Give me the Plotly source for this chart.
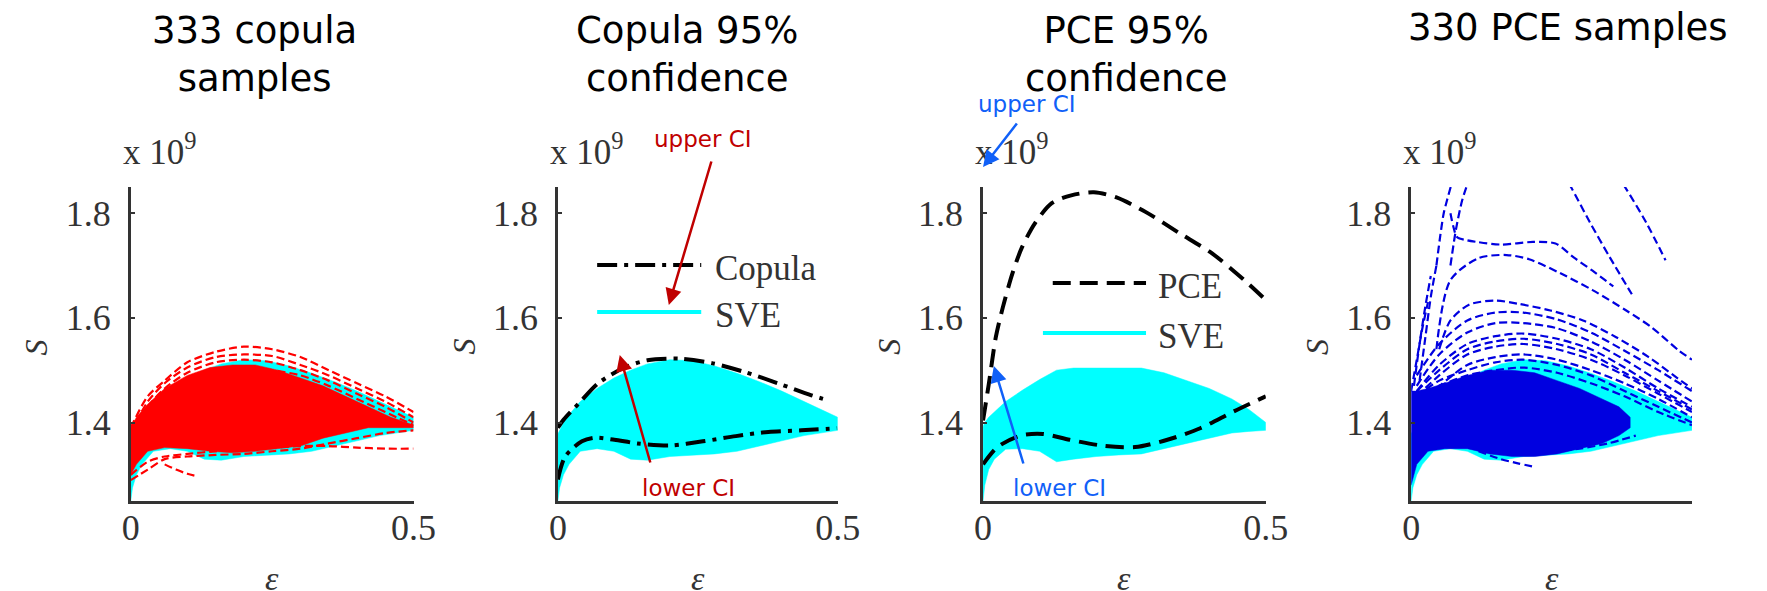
import plotly.graph_objects as go

W, H = 1767, 591

# ---------------- data ----------------
TITLES = ["333 copula<br>samples", "Copula 95%<br>confidence", "PCE 95%<br>confidence", "330 PCE samples"]
Y_TICKS = [1.4, 1.6, 1.8]
Y_TICKTEXT = ["1.4", "1.6", "1.8"]
X_TICKS = [0, 0.5]
X_TICKTEXT = ["0", "0.5"]

# SVE envelope (panels 1, 2, 4)
SVE_EPS = [0.0, 0.003, 0.01, 0.02, 0.04, 0.07, 0.10, 0.13, 0.16, 0.20, 0.24, 0.28, 0.32, 0.36, 0.40, 0.44, 0.47, 0.50]
SVE_UP = [1.378, 1.385, 1.40, 1.415, 1.44, 1.465, 1.485, 1.50, 1.512, 1.52, 1.518, 1.508, 1.494, 1.478, 1.46, 1.44, 1.425, 1.41]
SVE_LO = [1.25, 1.275, 1.30, 1.32, 1.345, 1.35, 1.345, 1.33, 1.328, 1.335, 1.338, 1.34, 1.345, 1.355, 1.365, 1.375, 1.38, 1.385]
# SVE envelope as drawn in panel 3
SVE3_UP = [1.392, 1.40, 1.41, 1.42, 1.44, 1.462, 1.482, 1.50, 1.504, 1.504, 1.504, 1.504, 1.495, 1.48, 1.465, 1.445, 1.425, 1.40]
SVE3_LO = [1.25, 1.28, 1.31, 1.33, 1.349, 1.35, 1.345, 1.325, 1.33, 1.335, 1.338, 1.34, 1.35, 1.36, 1.37, 1.38, 1.383, 1.385]

# copula samples: dense mass + individual sample curves
RED_EPS = [0.0, 0.01, 0.03, 0.06, 0.10, 0.14, 0.18, 0.22, 0.26, 0.30, 0.34, 0.38, 0.42, 0.46, 0.50]
RED_UP = [1.39, 1.41, 1.435, 1.465, 1.49, 1.505, 1.51, 1.51, 1.50, 1.485, 1.47, 1.45, 1.43, 1.41, 1.395]
RED_LO = [1.30, 1.32, 1.345, 1.352, 1.35, 1.345, 1.342, 1.345, 1.35, 1.355, 1.37, 1.38, 1.39, 1.39, 1.39]
RS_EPS = [0.0, 0.03, 0.06, 0.10, 0.15, 0.20, 0.25, 0.30, 0.35, 0.40, 0.45, 0.50]
RS1 = [1.39, 1.45, 1.48, 1.515, 1.535, 1.545, 1.54, 1.525, 1.50, 1.475, 1.45, 1.42]
RS2 = [1.38, 1.44, 1.475, 1.505, 1.525, 1.53, 1.527, 1.51, 1.49, 1.465, 1.44, 1.41]
RS3 = [1.37, 1.43, 1.465, 1.495, 1.515, 1.52, 1.515, 1.50, 1.48, 1.455, 1.43, 1.40]
RS4 = [1.30, 1.325, 1.335, 1.34, 1.345, 1.35, 1.352, 1.355, 1.355, 1.352, 1.35, 1.35]
RS5 = [1.29, 1.31, 1.33, 1.335, 1.338, 1.34, 1.345, 1.35, 1.36, 1.37, 1.38, 1.385]
RS7 = [1.36, 1.42, 1.455, 1.485, 1.50, 1.505, 1.50, 1.49, 1.47, 1.445, 1.42, 1.395]
RS6_EPS = [0.06, 0.08, 0.10, 0.115]
RS6 = [1.32, 1.31, 1.302, 1.298]

# copula 95% CI
CUP_EPS = [0.0, 0.01, 0.037, 0.072, 0.119, 0.16, 0.218, 0.277, 0.335, 0.393, 0.453, 0.484]
CUP_S = [1.39, 1.405, 1.436, 1.475, 1.505, 1.519, 1.522, 1.513, 1.496, 1.475, 1.452, 1.442]
CLO_EPS = [0.0, 0.013, 0.043, 0.066, 0.101, 0.142, 0.20, 0.259, 0.318, 0.376, 0.435, 0.499]
CLO_S = [1.291, 1.335, 1.364, 1.371, 1.367, 1.36, 1.356, 1.364, 1.374, 1.382, 1.385, 1.389]

# PCE 95% CI
PUP_EPS = [0.0, 0.0104, 0.0226, 0.035, 0.052, 0.069, 0.092, 0.1215, 0.156, 0.196, 0.236, 0.288, 0.347, 0.405, 0.462, 0.50]
PUP_S = [1.404, 1.475, 1.563, 1.62, 1.685, 1.735, 1.781, 1.819, 1.834, 1.84, 1.83, 1.802, 1.762, 1.723, 1.672, 1.634]
PLO_EPS = [0.0, 0.0255, 0.066, 0.106, 0.153, 0.21, 0.269, 0.326, 0.384, 0.443, 0.50]
PLO_S = [1.32, 1.353, 1.375, 1.378, 1.367, 1.356, 1.353, 1.367, 1.389, 1.421, 1.45]

# PCE samples: dense mass + individual sample curves
BLUE_EPS = [0.0, 0.01, 0.03, 0.06, 0.10, 0.14, 0.18, 0.22, 0.26, 0.30, 0.34, 0.37, 0.39]
BLUE_UP = [1.46, 1.46, 1.465, 1.475, 1.49, 1.50, 1.50, 1.495, 1.48, 1.465, 1.445, 1.43, 1.41]
BLUE_LO = [1.28, 1.32, 1.345, 1.35, 1.35, 1.34, 1.335, 1.335, 1.34, 1.35, 1.36, 1.375, 1.39]
B1_EPS = [0.045, 0.07, 0.12, 0.17, 0.21, 0.266, 0.323, 0.383, 0.428, 0.476, 0.50]
B1_S = [1.54, 1.672, 1.714, 1.72, 1.712, 1.685, 1.653, 1.614, 1.582, 1.538, 1.52]
B2_EPS = [0.07, 0.075, 0.082, 0.10, 0.117, 0.16, 0.217, 0.257, 0.29, 0.323, 0.36]
B2_S = [1.80, 1.775, 1.754, 1.748, 1.745, 1.74, 1.745, 1.742, 1.715, 1.69, 1.66]
BST1_EPS = [0.045, 0.052, 0.058, 0.064, 0.073]
BST1_S = [1.70, 1.758, 1.80, 1.825, 1.86]
BST2_EPS = [0.07, 0.08, 0.091, 0.105]
BST2_S = [1.70, 1.77, 1.825, 1.87]
BST3_EPS = [0.005, 0.015, 0.025, 0.035]
BST3_S = [1.47, 1.55, 1.62, 1.68]
BST4_EPS = [0.015, 0.025, 0.035, 0.045]
BST4_S = [1.48, 1.56, 1.64, 1.70]
BST5_EPS = [0.0, 0.01, 0.02, 0.03]
BST5_S = [1.46, 1.52, 1.58, 1.63]
BD1_EPS = [0.22, 0.25, 0.283, 0.318, 0.353, 0.393]
BD1_S = [1.95, 1.91, 1.853, 1.783, 1.717, 1.645]
BD2_EPS = [0.33, 0.379, 0.418, 0.453]
BD2_S = [1.93, 1.853, 1.783, 1.71]
B3_EPS = [0.05, 0.07, 0.103, 0.149, 0.19, 0.248, 0.306, 0.365, 0.423, 0.48, 0.50]
B3_S = [1.54, 1.595, 1.625, 1.633, 1.627, 1.614, 1.595, 1.563, 1.525, 1.48, 1.465]
BA_EPS = [0.01, 0.05, 0.10, 0.15, 0.20, 0.26, 0.32, 0.38, 0.44, 0.50]
B4_S = [1.49, 1.55, 1.595, 1.61, 1.61, 1.597, 1.572, 1.537, 1.50, 1.46]
B5_S = [1.47, 1.53, 1.572, 1.59, 1.59, 1.58, 1.555, 1.52, 1.48, 1.44]
B6_S = [1.46, 1.51, 1.55, 1.565, 1.57, 1.56, 1.54, 1.505, 1.465, 1.43]
B7_S = [1.45, 1.49, 1.53, 1.545, 1.55, 1.54, 1.52, 1.49, 1.455, 1.42]
B8_S = [1.44, 1.47, 1.51, 1.525, 1.53, 1.52, 1.50, 1.475, 1.445, 1.41]
B10_S = [1.45, 1.48, 1.50, 1.515, 1.52, 1.51, 1.49, 1.46, 1.43, 1.40]
B11_S = [1.45, 1.47, 1.49, 1.50, 1.505, 1.495, 1.475, 1.45, 1.42, 1.395]
B12_S = [1.46, 1.50, 1.54, 1.555, 1.56, 1.55, 1.53, 1.495, 1.46, 1.425]
B9_EPS = [0.12, 0.16, 0.19, 0.22]
B9_S = [1.345, 1.33, 1.322, 1.315]
B13_EPS = [0.25, 0.30, 0.35, 0.40]
B13_S = [1.345, 1.35, 1.36, 1.375]

# ---------------- layout geometry (pixels) ----------------
PANEL_X = [(124, 412), (559, 844), (992, 1280), (1428, 1714)]
Y_TOP, Y_BOT = 187, 501
Y_RANGE = [1.25, 1.85]
X_RANGE = [0, 0.5]

def px(x):
    return x / W

def py(y):
    return 1 - y / H

CYAN = "#00FFFF"
RED = "#FF0000"
BLUE = "#0000E0"
DARKRED = "#C00000"
LBLUE = "#1060F8"
AXC = "#333333"
SERIF = "Liberation Serif, Times New Roman, serif"
SANS = "DejaVu Sans, Arial, sans-serif"

fig = go.Figure()

def ax(i):
    return ("x" if i == 0 else f"x{i+1}", "y" if i == 0 else f"y{i+1}")

def band(i, e, up, lo, color):
    xa, ya = ax(i)
    fig.add_trace(go.Scatter(x=list(e) + list(e)[::-1], y=list(up) + list(lo)[::-1],
                             fill="toself", fillcolor=color, mode="lines",
                             line=dict(width=0.5, color=color),
                             xaxis=xa, yaxis=ya, hoverinfo="skip"))

def curve(i, e, s, color, width=2.2, dash="8px,4px"):
    xa, ya = ax(i)
    fig.add_trace(go.Scatter(x=e, y=s, mode="lines",
                             line=dict(color=color, width=width, dash=dash, shape="spline", smoothing=0.8),
                             xaxis=xa, yaxis=ya, hoverinfo="skip"))

# panel 1
band(0, SVE_EPS, SVE_UP, SVE_LO, CYAN)
band(0, RED_EPS, RED_UP, RED_LO, RED)
for s in (RS1, RS2, RS3, RS4, RS5, RS7):
    curve(0, RS_EPS, s, RED)
curve(0, RS6_EPS, RS6, RED)

# panel 2
band(1, SVE_EPS, SVE_UP, SVE_LO, CYAN)
curve(1, CUP_EPS, CUP_S, "black", 4, "20px,7px,4px,7px")
curve(1, CLO_EPS, CLO_S, "black", 4, "20px,7px,4px,7px")

# panel 3
band(2, SVE_EPS, SVE3_UP, SVE3_LO, CYAN)
curve(2, PUP_EPS, PUP_S, "black", 4, "18px,9px")
curve(2, PLO_EPS, PLO_S, "black", 4, "18px,9px")

# panel 4
band(3, SVE_EPS, SVE_UP, SVE_LO, CYAN)
band(3, BLUE_EPS, BLUE_UP, BLUE_LO, BLUE)
for e, s in ((B1_EPS, B1_S), (B2_EPS, B2_S), (BST1_EPS, BST1_S), (BST2_EPS, BST2_S),
             (BST3_EPS, BST3_S), (BST4_EPS, BST4_S), (BST5_EPS, BST5_S),
             (BD1_EPS, BD1_S), (BD2_EPS, BD2_S), (B3_EPS, B3_S),
             (BA_EPS, B4_S), (BA_EPS, B5_S), (BA_EPS, B6_S), (BA_EPS, B7_S), (BA_EPS, B8_S),
             (BA_EPS, B10_S), (BA_EPS, B11_S), (BA_EPS, B12_S),
             (B9_EPS, B9_S), (B13_EPS, B13_S)):
    curve(3, e, s, BLUE)

layout = dict(width=W, height=H, margin=dict(l=0, r=0, t=0, b=0),
              paper_bgcolor="white", plot_bgcolor="white", showlegend=False,
              hovermode=False)

for i, (x0, x1) in enumerate(PANEL_X):
    xk = "xaxis" if i == 0 else f"xaxis{i+1}"
    yk = "yaxis" if i == 0 else f"yaxis{i+1}"
    xa, ya = ax(i)
    layout[xk] = dict(domain=[px(x0), px(x1)], range=X_RANGE, anchor=ya,
                      showline=True, linecolor=AXC, linewidth=2.5, mirror=False,
                      showgrid=False, zeroline=False, ticks="inside", ticklen=5,
                      tickcolor=AXC, tickwidth=2, tickvals=X_TICKS,
                      ticktext=X_TICKTEXT if i < 3 else ["0", ""],
                      tickfont=dict(family=SERIF, size=36, color=AXC),
                      ticklabelstandoff=-7)
    layout[yk] = dict(domain=[py(Y_BOT), py(Y_TOP)], range=Y_RANGE, anchor=xa,
                      showline=True, linecolor=AXC, linewidth=2.5, mirror=False,
                      showgrid=False, zeroline=False, ticks="inside", ticklen=4,
                      tickcolor=AXC, tickwidth=2, tickvals=Y_TICKS, ticktext=Y_TICKTEXT,
                      tickfont=dict(family=SERIF, size=36, color=AXC),
                      ticklabelstandoff=10)

fig.update_layout(**layout)

ann = []
# titles
TITLE_X = [250, 690, 1138, 1587]
for t, cx in zip(TITLES, TITLE_X):
    ann.append(dict(x=px(cx), y=py(54 if "<br>" in t else 28), xref="paper", yref="paper",
                    text=t, showarrow=False, xanchor="center", yanchor="middle",
                    font=dict(family=SANS, size=37, color="black")))
# x 10^9, S and epsilon labels
for i, (x0, x1) in enumerate(PANEL_X):
    ann.append(dict(x=px(x0 - 10), y=py(174), xref="paper", yref="paper",
                    text="x 10<sup>9</sup>", showarrow=False, xanchor="left", yanchor="bottom",
                    font=dict(family=SERIF, size=35, color=AXC)))
    ann.append(dict(x=px(x0 - 96), y=py(347), xref="paper", yref="paper",
                    text="<i>S</i>", showarrow=False, xanchor="center", yanchor="middle",
                    textangle=-90, font=dict(family=SERIF, size=32, color=AXC)))
    ann.append(dict(x=px((x0 + x1) / 2), y=py(578), xref="paper", yref="paper",
                    text="<i>ε</i>", showarrow=False, xanchor="center", yanchor="middle",
                    font=dict(family=SERIF, size=34, color=AXC)))

# legends (panels 2 and 3)
LEG = [(599, 705, 265, "Copula", "black", "20px,7px,4px,7px", 717),
       (599, 705, 312, "SVE", CYAN, "solid", 717),
       (1063, 1158, 283, "PCE", "black", "18px,9px", 1168),
       (1053, 1158, 333, "SVE", CYAN, "solid", 1168)]
shapes = []
for xa0, xa1, yy, label, col, dsh, tx in LEG:
    shapes.append(dict(type="line", xref="paper", yref="paper", x0=px(xa0), x1=px(xa1),
                       y0=py(yy), y1=py(yy), line=dict(color=col, width=4, dash=dsh)))
    ann.append(dict(x=px(tx), y=py(yy + 3), xref="paper", yref="paper", text=label,
                    showarrow=False, xanchor="left", yanchor="middle",
                    font=dict(family=SERIF, size=35, color=AXC)))

# CI annotations
TXT = [("upper CI", 707, 139, DARKRED), ("lower CI", 692, 488, DARKRED),
       ("upper CI", 1037, 104, LBLUE), ("lower CI", 1070, 488, LBLUE)]
for t, cx, cy, col in TXT:
    ann.append(dict(x=px(cx), y=py(cy), xref="paper", yref="paper", text=t,
                    showarrow=False, xanchor="center", yanchor="middle",
                    font=dict(family=SANS, size=23, color=col)))
ARROWS = [(672, 305, 715, 160, DARKRED), (622, 355, 653, 464, DARKRED),
          (992, 167, 1027, 122, LBLUE), (1003, 366, 1033, 465, LBLUE)]
for hx, hy, tx, ty, col in ARROWS:
    ann.append(dict(x=px(hx), y=py(hy), xref="paper", yref="paper", text="",
                    showarrow=True, ax=tx - hx, ay=ty - hy, arrowhead=2, arrowsize=1.3,
                    arrowwidth=2.5, arrowcolor=col, standoff=0))

fig.update_layout(annotations=ann, shapes=shapes)
fig.write_html("out.html")
